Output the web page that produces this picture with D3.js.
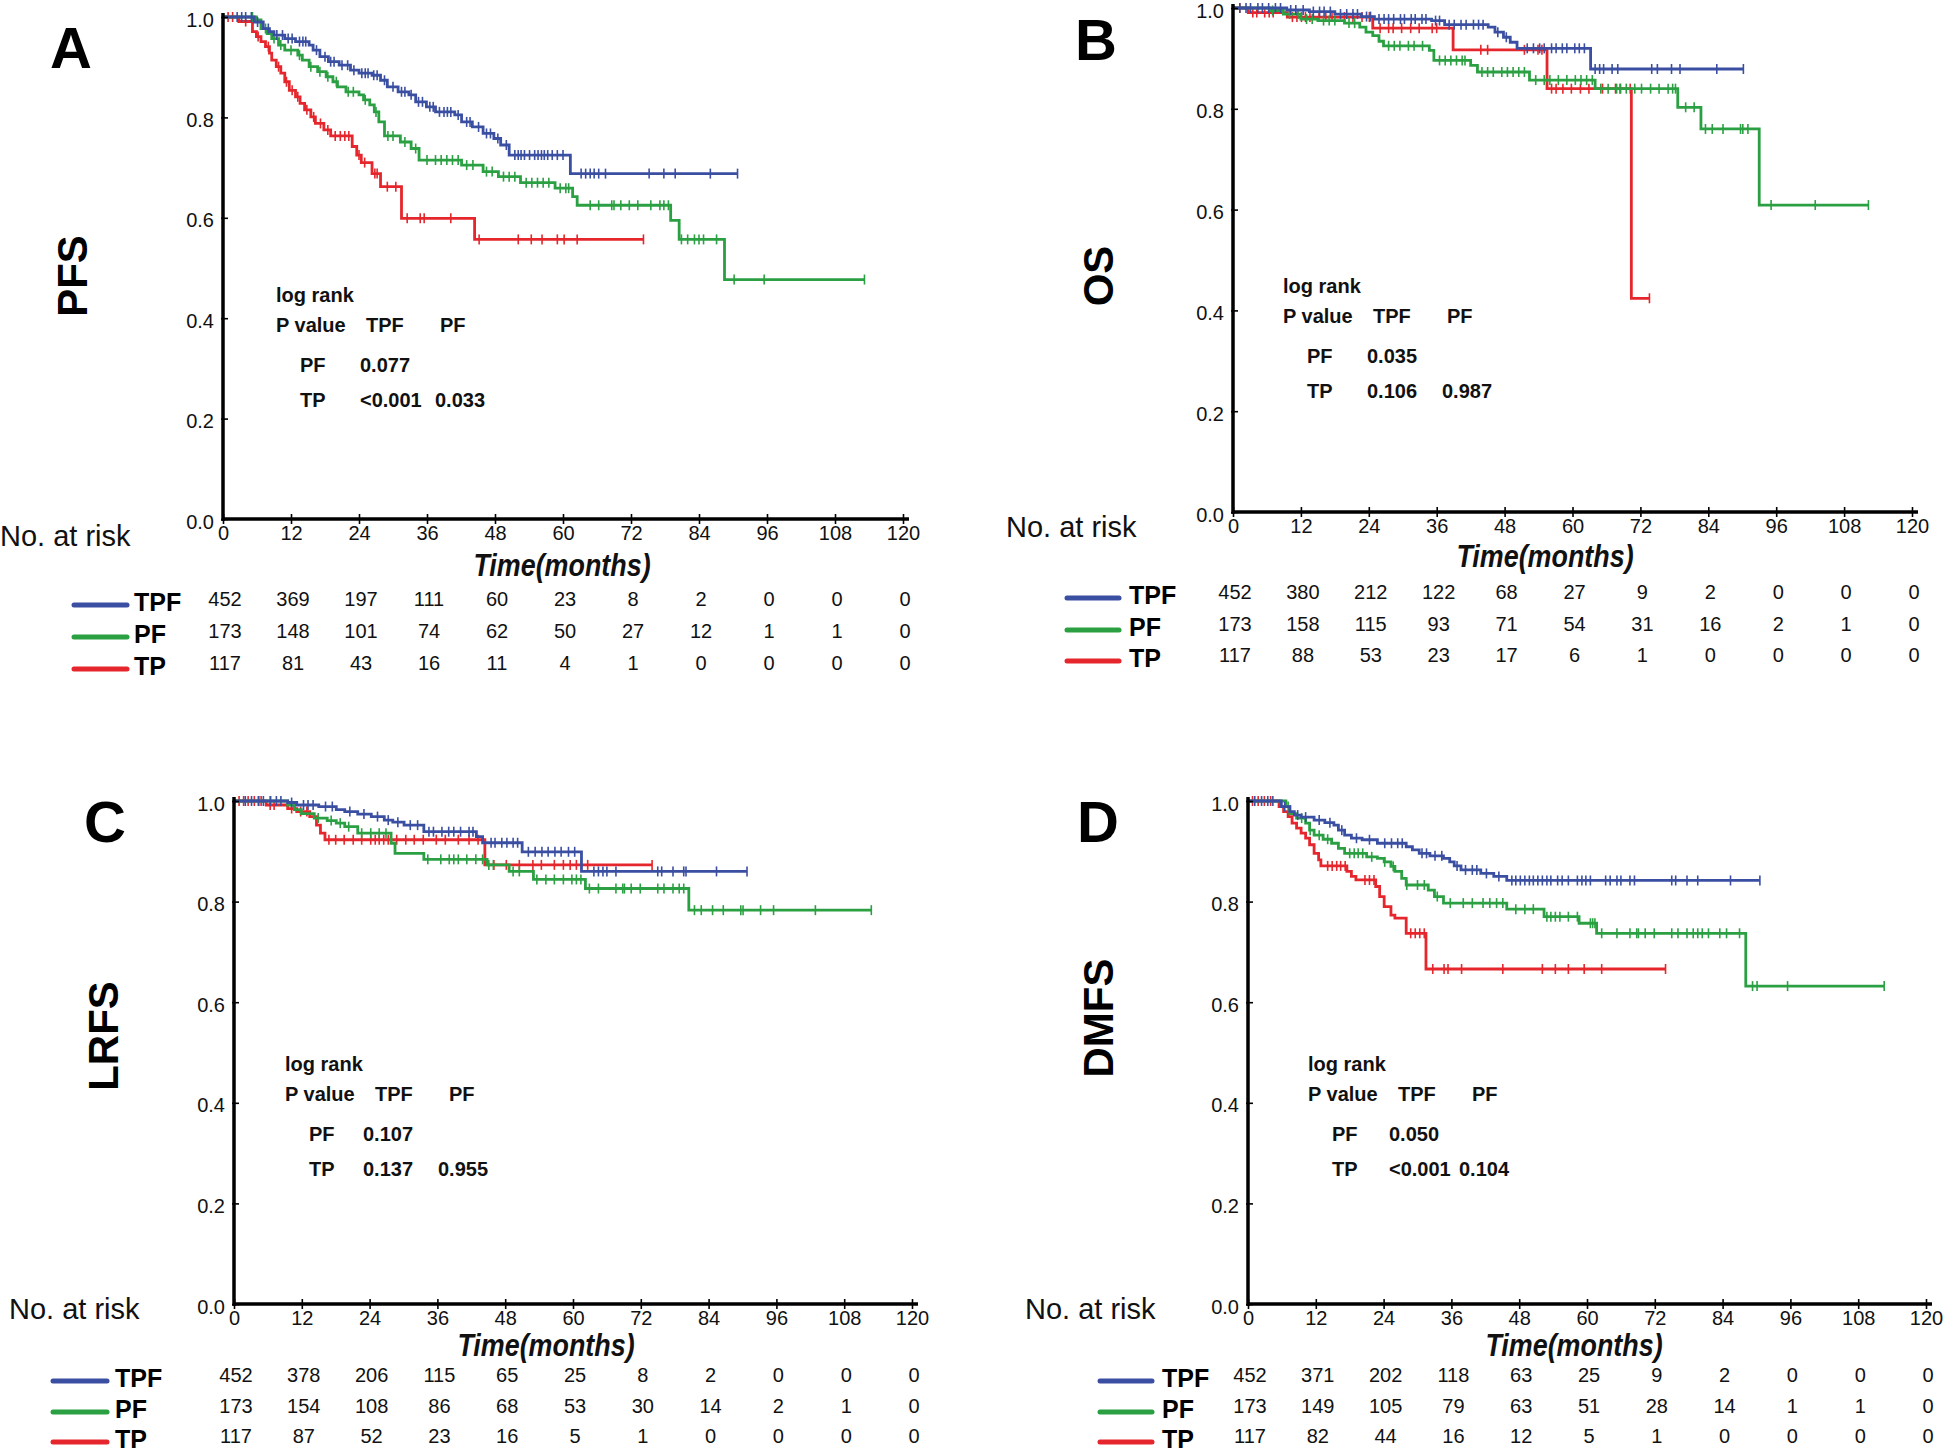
<!DOCTYPE html>
<html><head><meta charset="utf-8">
<script src="https://cdn.jsdelivr.net/npm/d3@7"></script>
<style>
html,body{margin:0;padding:0;background:#fff;}
text{font-family:"Liberation Sans Narrow","Arial Narrow","Liberation Sans",Arial,sans-serif;}
.big{font-family:"Liberation Sans",Arial,sans-serif;font-weight:bold;}
</style></head>
<body>
<svg id="chart" width="1946" height="1456"></svg>
<script>
// ---------- DATA ----------
const months = [0,12,24,36,48,60,72,84,96,108,120];
const yTicks = [0,0.2,0.4,0.6,0.8,1.0];
const groups = ["TPF","PF","TP"];

// Panel A (PFS)
const A_TPF = [[0,1],[5.5,0.99],[7.1,0.977],[8.2,0.971],[9,0.964],[10.9,0.957],[12.8,0.951],[15.2,0.944],[15.9,0.934],[17.1,0.921],[18.6,0.911],[20.5,0.904],[22.5,0.894],[24,0.888],[26.3,0.884],[27.8,0.874],[29,0.861],[30.9,0.851],[32.8,0.845],[34,0.831],[35.9,0.821],[37.5,0.811],[40.9,0.805],[42.1,0.791],[44,0.781],[45.9,0.768],[47.8,0.758],[49,0.745],[50.5,0.725],[61.3,0.688]];
const A_TPF_cens = [2.5,3.3,4.0,5.0,6.1,8.0,9.5,10.5,11.5,12.2,13.5,14.1,14.6,16.5,18.0,19.0,19.6,21.0,22.0,23.1,24.5,25.1,25.6,26.6,27.2,28.5,30.0,31.5,32.1,33.2,34.5,35.2,36.5,37.1,38.2,39.0,39.6,40.2,41.5,43.0,43.6,45.1,46.5,47.2,48.5,50.0,51.5,52.1,52.6,53.2,54.1,55.0,55.6,56.2,56.7,57.3,58.1,59.0,60.0,63.2,64.0,64.8,65.5,66.3,67.5,75.2,77.8,79.8,86.0,90.8];
const A_PF = [[0,1],[5.9,0.994],[6.7,0.977],[7.8,0.967],[8.6,0.957],[9.8,0.944],[10.9,0.934],[13.2,0.924],[14,0.914],[15.2,0.901],[16.7,0.891],[18.2,0.881],[19.4,0.871],[20.2,0.861],[21.7,0.851],[24,0.845],[24.8,0.835],[25.9,0.825],[26.7,0.811],[27.5,0.791],[28.5,0.763],[31.3,0.751],[33.2,0.738],[34.6,0.715],[42.1,0.705],[45.9,0.692],[48.6,0.682],[52.5,0.67],[58.6,0.659],[61.7,0.642],[62.5,0.625],[79,0.595],[80.5,0.557],[88.5,0.477]];
const A_PF_cens = [5.2,7.5,9.0,10.2,12.0,13.5,15.5,17.1,18.5,20.0,22.1,23.0,25.1,27.0,29.1,30.0,32.1,34.0,36.0,37.5,38.5,39.5,40.5,41.5,43.0,44.1,46.5,47.5,49.5,50.5,51.5,53.5,54.5,55.5,56.5,57.5,59.5,60.5,61.0,64.8,66.3,68.6,69.0,70.2,71.7,73.2,75.5,77.1,77.8,78.6,80.9,82.0,83.2,84.0,84.8,87.1,90.2,95.5,113.2];
const A_TP = [[0,1],[2.8,0.991],[5.2,0.971],[5.9,0.961],[6.7,0.951],[7.5,0.941],[8.2,0.928],[8.6,0.914],[9.4,0.901],[10.2,0.888],[10.9,0.871],[11.7,0.854],[12.8,0.841],[13.6,0.828],[14.4,0.815],[15.5,0.801],[16.3,0.788],[17.8,0.775],[19,0.763],[22.8,0.742],[23.6,0.725],[24.4,0.71],[26.3,0.688],[27.8,0.662],[31.5,0.599],[44.4,0.557]];
const A_TP_cens = [0.9,1.7,4.0,6.2,8.0,9.8,11.2,12.2,13.2,14.8,16.0,17.2,18.5,19.8,20.7,21.5,22.2,24.0,25.0,26.8,27.2,29.0,30.5,32.5,34.8,35.5,40.2,45.2,52.1,54.4,56.3,59.0,60.2,62.5,74.2];
const A_riskTPF = [452,369,197,111,60,23,8,2,0,0,0];
const A_riskPF  = [173,148,101,74,62,50,27,12,1,1,0];
const A_riskTP  = [117,81,43,16,11,4,1,0,0,0,0];
const A_pPF = ["0.077",""];
const A_pTP = ["<0.001","0.033"];

// Panel B (OS)
const B_TPF = [[0,1],[9.5,0.996],[13.5,0.993],[18,0.988],[22.7,0.983],[25,0.978],[35.1,0.975],[37.4,0.967],[45.1,0.962],[46.3,0.952],[47.8,0.942],[49,0.932],[50.2,0.92],[63.2,0.879]];
const B_TPF_cens = [1.2,2.3,3.1,4.4,5.2,6.3,7.5,8.4,10.2,11.1,12.4,14.2,15.3,16.1,17.2,19.0,20.1,21.2,22.0,23.6,24.3,25.8,26.7,27.5,28.4,29.6,30.3,31.5,32.2,33.4,34.1,35.8,36.5,38.2,39.1,40.3,41.2,42.5,43.4,44.2,46.8,48.3,52.0,53.1,54.2,55.0,56.3,57.1,58.2,59.0,60.4,61.2,62.1,64.0,64.8,65.5,67.0,68.0,74.0,75.0,77.5,79.0,85.5,90.2];
const B_PF = [[0,1],[6.5,0.995],[8.9,0.988],[12,0.978],[15,0.975],[19.7,0.97],[22.4,0.962],[23.5,0.952],[24.7,0.945],[25.8,0.934],[26.6,0.925],[34.7,0.916],[35.5,0.896],[42,0.886],[43.2,0.873],[52.4,0.857],[64,0.84],[78.6,0.803],[82.7,0.76],[93,0.609]];
const B_PF_cens = [7.0,10.0,11.5,13.0,14.0,16.0,17.0,18.0,20.5,21.5,27.5,28.5,29.5,31.0,32.0,33.5,36.5,37.5,38.5,39.5,40.5,41.0,44.0,45.0,46.0,47.5,48.5,49.5,50.5,51.5,53.5,55.0,56.0,57.5,59.0,60.5,61.5,62.5,63.5,65.0,66.3,67.8,68.5,69.5,71.0,72.2,73.8,75.3,76.9,77.7,78.2,80.0,81.5,83.5,84.7,86.6,89.7,90.1,91.0,95.1,102.9,112.3];
const B_TP = [[0,1],[2.7,0.991],[9.6,0.982],[24.7,0.96],[38.9,0.917],[55.5,0.84],[70.4,0.424]];
const B_TP_cens = [1.2,3.5,4.2,5.6,6.4,7.1,10.5,11.3,12.1,12.8,13.6,15.2,16.4,17.5,19.7,21.2,22.8,24.1,26.0,27.5,28.3,29.8,31.4,32.9,35.2,36.0,43.8,45.0,51.5,53.9,54.6,56.3,57.1,58.3,59.8,61.4,62.9,65.3,67.6,68.4,70.2,73.6];
const B_riskTPF = [452,380,212,122,68,27,9,2,0,0,0];
const B_riskPF  = [173,158,115,93,71,54,31,16,2,1,0];
const B_riskTP  = [117,88,53,23,17,6,1,0,0,0,0];
const B_pPF = ["0.035",""];
const B_pTP = ["0.106","0.987"];

// Panel C (LRFS)
const C_TPF = [[0,1],[9.5,0.997],[11.1,0.992],[15,0.989],[18.1,0.983],[19.6,0.979],[21.9,0.974],[24.3,0.969],[26.6,0.962],[28.1,0.958],[30.1,0.952],[33.6,0.939],[42.9,0.929],[44,0.917],[51,0.899],[61.5,0.86]];
const C_TPF_cens = [2.0,3.1,4.3,5.2,6.4,7.5,8.3,10.2,12.3,13.1,14.0,16.2,17.4,20.5,23.0,25.4,27.3,29.0,31.2,32.5,34.5,35.3,36.8,38.0,38.9,40.1,41.6,42.3,45.5,46.2,47.4,48.3,49.4,50.2,52.1,53.3,54.5,55.6,56.8,57.9,59.2,60.3,63.7,64.5,65.3,66.0,67.6,75.0,75.7,77.7,79.6,80.0,85.4,90.8];
const C_PF = [[0,1],[9.5,0.992],[10.7,0.983],[11.9,0.975],[14.2,0.966],[16.5,0.961],[18.1,0.956],[19.6,0.949],[21.9,0.936],[27.8,0.916],[28.5,0.896],[33.6,0.884],[44.8,0.873],[48.7,0.86],[53,0.844],[62.2,0.826],[80.5,0.783]];
const C_PF_cens = [6.5,14.9,17.2,18.8,20.3,22.6,24.2,25.7,26.9,34.3,36.6,38.1,38.9,39.7,41.2,42.8,44.0,45.1,45.9,49.4,50.5,53.6,55.2,56.7,58.3,59.8,60.6,61.4,62.9,64.5,67.6,68.8,69.1,70.3,71.9,75.0,76.1,77.7,78.8,79.6,81.5,82.7,84.7,86.6,89.7,90.1,93.2,95.5,102.9,112.8];
const C_TP = [[0,1],[5.7,0.992],[9.5,0.985],[11.1,0.979],[13.4,0.969],[14.6,0.952],[15.3,0.936],[16.1,0.923],[44.4,0.873]];
const C_TP_cens = [0.9,1.7,2.5,3.6,4.4,4.8,6.4,7.1,10.2,11.8,12.9,16.8,18.0,19.5,21.1,22.6,24.2,25.0,25.7,26.5,27.3,28.8,30.4,31.9,33.5,35.8,37.4,39.7,41.6,43.2,46.0,48.2,50.5,52.9,54.4,56.7,58.3,59.5,60.6,62.6,74.0];
const C_riskTPF = [452,378,206,115,65,25,8,2,0,0,0];
const C_riskPF  = [173,154,108,86,68,53,30,14,2,1,0];
const C_riskTP  = [117,87,52,23,16,5,1,0,0,0,0];
const C_pPF = ["0.107",""];
const C_pTP = ["0.137","0.955"];

// Panel D (DMFS)
const D_TPF = [[0,1],[5.9,0.989],[7.4,0.979],[8.2,0.972],[9.4,0.968],[11.7,0.962],[13.6,0.957],[15.2,0.952],[16,0.942],[17.1,0.932],[18.3,0.926],[20.2,0.923],[22.9,0.916],[28,0.909],[29.1,0.903],[30.3,0.896],[32.2,0.891],[34.6,0.886],[35.7,0.879],[36.5,0.871],[37.7,0.863],[41.2,0.856],[43.5,0.85],[45.8,0.842]];
const D_TPF_cens = [1.2,2.4,3.5,4.4,6.5,8.8,10.2,12.6,14.5,16.6,19.2,21.5,24.2,25.4,26.5,27.3,30.8,31.6,33.1,34.3,37.0,38.5,39.7,40.5,42.2,44.4,46.7,47.4,48.2,49.0,49.8,50.5,51.3,52.1,52.9,53.6,54.8,55.6,56.7,58.3,59.1,59.8,60.6,63.3,64.1,65.3,66.0,67.6,68.4,75.0,75.7,77.7,79.6,85.4,90.6];
const D_PF = [[0,1],[6.7,0.989],[7.4,0.975],[8.6,0.966],[10.2,0.956],[10.9,0.942],[11.7,0.932],[13.3,0.924],[14.8,0.916],[16,0.906],[17.1,0.896],[21,0.889],[22.9,0.886],[24.1,0.879],[25.3,0.87],[26,0.86],[27.2,0.846],[28,0.833],[31.9,0.823],[33,0.81],[34.6,0.797],[45.8,0.785],[52.4,0.77],[58.6,0.757],[61.7,0.737],[88.1,0.632]];
const D_PF_cens = [7.1,9.5,11.0,12.6,14.1,18.0,18.8,19.5,20.3,21.9,24.2,25.7,28.1,30.0,31.2,33.5,35.8,38.1,39.7,41.6,42.8,44.0,45.1,47.4,49.0,50.5,52.9,53.6,54.4,55.2,56.7,58.3,60.6,61.0,61.4,62.6,65.3,67.6,68.8,69.1,70.3,71.9,75.0,76.1,77.7,78.8,79.6,80.4,81.5,83.5,84.7,87.0,89.3,90.1,95.5,112.6];
const D_TP = [[0,1],[5.5,0.989],[6.3,0.979],[7.1,0.969],[7.8,0.956],[8.6,0.946],[9.4,0.936],[10.2,0.926],[10.9,0.913],[11.7,0.896],[12.5,0.883],[12.9,0.871],[17.5,0.86],[18.3,0.85],[19.1,0.843],[22.6,0.83],[23.3,0.81],[24.1,0.79],[25.3,0.773],[26,0.767],[28,0.737],[31.5,0.666]];
const D_TP_cens = [0.8,1.8,2.9,4.0,14.1,14.9,15.7,16.4,17.2,20.7,21.5,22.3,28.8,29.6,30.4,31.2,32.7,34.7,35.4,37.8,45.1,52.1,54.4,56.7,59.5,62.6,73.9];
const D_riskTPF = [452,371,202,118,63,25,9,2,0,0,0];
const D_riskPF  = [173,149,105,79,63,51,28,14,1,1,0];
const D_riskTP  = [117,82,44,16,12,5,1,0,0,0,0];
const D_pPF = ["0.050",""];
const D_pTP = ["<0.001","0.104"];

// ---------- STYLE / LAYOUT ----------
const colors = {TPF:"#3b4fa2", PF:"#2ba043", TP:"#e5262c"};
const narrow = '"Liberation Sans Narrow","Arial Narrow","Liberation Sans",Arial,sans-serif';

const panels = [
  {letter:"A", ytitle:"PFS", curves:{TPF:A_TPF,PF:A_PF,TP:A_TP}, cens:{TPF:A_TPF_cens,PF:A_PF_cens,TP:A_TP_cens},
   risk:{TPF:A_riskTPF,PF:A_riskPF,TP:A_riskTP}, pPF:A_pPF, pTP:A_pTP,
   L:{x0:223,x1:903,yt:17,yb:519, letX:50,letY:68, ytX:72,ytY:276, lrX:276,lrY:302, v1:84,v2:159,
      narX:0,narY:546, timeX:562,timeY:576, rows:[606,638,670], lineX:[74,127], labX:134}},
  {letter:"B", ytitle:"OS", curves:{TPF:B_TPF,PF:B_PF,TP:B_TP}, cens:{TPF:B_TPF_cens,PF:B_PF_cens,TP:B_TP_cens},
   risk:{TPF:B_riskTPF,PF:B_riskPF,TP:B_riskTP}, pPF:B_pPF, pTP:B_pTP,
   L:{x0:1233,x1:1912,yt:8,yb:512, letX:1075,letY:60, ytX:1098,ytY:276, lrX:1283,lrY:293, v1:84,v2:159,
      narX:1006,narY:537, timeX:1545,timeY:567, rows:[599,631,662], lineX:[1067,1119], labX:1129}},
  {letter:"C", ytitle:"LRFS", curves:{TPF:C_TPF,PF:C_PF,TP:C_TP}, cens:{TPF:C_TPF_cens,PF:C_PF_cens,TP:C_TP_cens},
   risk:{TPF:C_riskTPF,PF:C_riskPF,TP:C_riskTP}, pPF:C_pPF, pTP:C_pTP,
   L:{x0:234,x1:912,yt:801,yb:1304, letX:84,letY:842, ytX:103,ytY:1036, lrX:285,lrY:1071, v1:78,v2:153,
      narX:9,narY:1319, timeX:546,timeY:1356, rows:[1382,1413,1443], lineX:[53,107], labX:115}},
  {letter:"D", ytitle:"DMFS", curves:{TPF:D_TPF,PF:D_PF,TP:D_TP}, cens:{TPF:D_TPF_cens,PF:D_PF_cens,TP:D_TP_cens},
   risk:{TPF:D_riskTPF,PF:D_riskPF,TP:D_riskTP}, pPF:D_pPF, pTP:D_pTP,
   L:{x0:1248,x1:1926,yt:801,yb:1304, letX:1077,letY:842, ytX:1098,ytY:1018, lrX:1308,lrY:1071, v1:81,v2:151,
      narX:1025,narY:1319, timeX:1574,timeY:1356, rows:[1382,1413,1443], lineX:[1100,1152], labX:1162}}
];

const svg = d3.select("#chart");

function survAt(steps, t){
  let s = 1;
  for (const [ti, si] of steps){ if (ti <= t + 1e-9) s = si; }
  return s;
}

panels.forEach(p => {
  const L = p.L;
  const x = d3.scaleLinear().domain([0,120]).range([L.x0, L.x1]);
  const y = d3.scaleLinear().domain([0,1]).range([L.yb, L.yt]);
  const g = svg.append("g");

  ["TP","PF","TPF"].forEach(k => {
    const steps = p.curves[k];
    const cens = p.cens[k];
    const end = Math.max(d3.max(cens), steps[steps.length-1][0]);
    const pts = steps.concat([[end, steps[steps.length-1][1]]]);
    const line = d3.line().x(d => x(d[0])).y(d => y(d[1])).curve(d3.curveStepAfter);
    g.append("path").attr("d", line(pts)).attr("fill","none")
      .attr("stroke", colors[k]).attr("stroke-width", 2.8).attr("stroke-linejoin","miter");
    g.selectAll(null).data(cens).enter().append("line")
      .attr("x1", d => x(d)).attr("x2", d => x(d))
      .attr("y1", d => y(survAt(steps,d)) - 5).attr("y2", d => y(survAt(steps,d)) + 5)
      .attr("stroke", colors[k]).attr("stroke-width", 1.6);
  });

  // x axis
  const xAxis = d3.axisBottom(x).tickValues(months).tickSizeInner(5).tickSizeOuter(0).tickPadding(2);
  const xg = g.append("g").attr("transform", `translate(0,${L.yb})`).call(xAxis);
  xg.select(".domain").remove();
  xg.selectAll(".tick line").attr("y1",-5).attr("y2",5).attr("stroke","#000").attr("stroke-width",1.6);
  xg.selectAll(".tick text").attr("font-size",20).attr("fill","#111").style("font-family",narrow);
  g.append("line").attr("x1", L.x0).attr("x2", x(120)+6).attr("y1", L.yb).attr("y2", L.yb)
    .attr("stroke","#000").attr("stroke-width",3.5);

  // y axis
  const yAxis = d3.axisLeft(y).tickValues(yTicks).tickFormat(d3.format(".1f")).tickSizeInner(5).tickSizeOuter(0).tickPadding(4);
  const yg = g.append("g").attr("transform", `translate(${L.x0},0)`).call(yAxis);
  yg.select(".domain").remove();
  yg.selectAll(".tick line").attr("x1",-2).attr("x2",5).attr("stroke","#000").attr("stroke-width",1.6);
  yg.selectAll(".tick text").attr("font-size",20).attr("fill","#111").attr("dy","0.45em").style("font-family",narrow);
  g.append("line").attr("x1", L.x0).attr("x2", L.x0).attr("y1", L.yb+2).attr("y2", y(1)-4)
    .attr("stroke","#000").attr("stroke-width",3.5);

  // panel letter
  g.append("text").attr("class","big").attr("x",L.letX).attr("y",L.letY).attr("font-size",58).text(p.letter);
  // y title
  g.append("text").attr("class","big").attr("font-size",42).attr("text-anchor","middle")
    .attr("transform",`translate(${L.ytX},${L.ytY}) rotate(-90)`).attr("dy","0.36em").text(p.ytitle);

  // log rank block
  const lb = g.append("g").attr("font-weight","bold").attr("font-size",20).attr("fill","#111");
  lb.append("text").attr("x",L.lrX).attr("y",L.lrY).text("log rank");
  lb.append("text").attr("x",L.lrX).attr("y",L.lrY+30).text("P value");
  lb.append("text").attr("x",L.lrX+90).attr("y",L.lrY+30).text("TPF");
  lb.append("text").attr("x",L.lrX+164).attr("y",L.lrY+30).text("PF");
  lb.append("text").attr("x",L.lrX+24).attr("y",L.lrY+70).text("PF");
  lb.append("text").attr("x",L.lrX+L.v1).attr("y",L.lrY+70).text(p.pPF[0]);
  lb.append("text").attr("x",L.lrX+24).attr("y",L.lrY+105).text("TP");
  lb.append("text").attr("x",L.lrX+L.v1).attr("y",L.lrY+105).text(p.pTP[0]);
  lb.append("text").attr("x",L.lrX+L.v2).attr("y",L.lrY+105).text(p.pTP[1]);

  // No. at risk
  g.append("text").attr("x",L.narX).attr("y",L.narY).attr("font-size",29).attr("fill","#111").text("No. at risk");
  // Time(months) – condensed bold italic
  g.append("text").attr("transform",`translate(${L.timeX},${L.timeY}) scale(0.84,1)`)
    .attr("text-anchor","middle").attr("font-size",32)
    .attr("font-weight","bold").attr("font-style","italic").attr("fill","#111").text("Time(months)");

  // risk table
  groups.forEach((k,i) => {
    const ry = L.rows[i];
    g.append("line").attr("x1",L.lineX[0]).attr("x2",L.lineX[1]).attr("y1",ry-1).attr("y2",ry-1)
      .attr("stroke",colors[k]).attr("stroke-width",5).attr("stroke-linecap","round");
    g.append("text").attr("class","big").attr("x",L.labX).attr("y",ry+5).attr("font-size",25).text(k);
    g.selectAll(null).data(p.risk[k]).enter().append("text")
      .attr("x",(d,j) => x(months[j]) + 2).attr("y", ry)
      .attr("text-anchor","middle").attr("font-size",20).attr("fill","#111").text(d => d);
  });
});
</script>
</body></html>
